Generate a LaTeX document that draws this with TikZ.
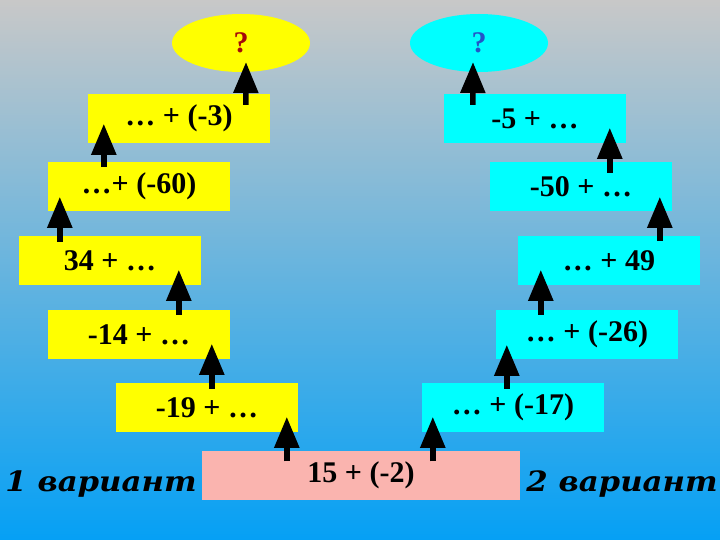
\documentclass[tikz,border=0pt]{standalone}
\usepackage{fontspec}
\setmainfont{Liberation Serif}
\newfontfamily\varfont{DejaVu Serif}
\usetikzlibrary{shapes.geometric,calc,arrows.meta}

\definecolor{bgtop}{RGB}{200,200,200}
\definecolor{bgmid}{RGB}{100,165,220}
\definecolor{bgbot}{RGB}{5,160,245}
\definecolor{yellowbox}{RGB}{255,255,0}
\definecolor{cyanbox}{RGB}{0,255,255}
\definecolor{pinkbox}{RGB}{250,180,175}
\definecolor{qred}{RGB}{165,10,10}
\definecolor{qblue}{RGB}{35,85,200}

\begin{document}
\begin{tikzpicture}[x=1pt,y=-1pt,
    font=\fontsize{30}{36}\selectfont\bfseries,
    sumbox/.style={rectangle, minimum width=182pt, minimum height=49pt, inner sep=0pt},
    ybox/.style={sumbox, fill=yellowbox},
    cbox/.style={sumbox, fill=cyanbox},
    goal/.style={ellipse, minimum width=138pt, minimum height=58pt, inner sep=0pt},
    up/.style={line width=5.5pt, -{Triangle[width=24pt,length=31pt]}},
    variant/.style={xscale=1.1, font=\varfont\fontsize{28}{32}\selectfont\bfseries\itshape}]

    % background
    \shade[top color=bgtop, middle color=bgmid, bottom color=bgbot] (0,0) rectangle (720,540);
    \useasboundingbox (0,0) rectangle (720,540);

    % start
    \node[sumbox, fill=pinkbox, minimum width=318pt] (p) at (361,475) {15 + (-2)};
    \node[variant] (v1) at (101,484) {1 вариант};
    \node[variant] (v2) at (622,484) {2 вариант};

    % first variant (yellow)
    \node[ybox] (y19) at (207,407.5) {-19 + …};
    \node[ybox] (y14) at (139,334.5) {-14 + …};
    \node[ybox] (y34) at (110,260.5) {34 + …};
    \node[ybox] (y60) at (139,186.5) {…+ (-60)};
    \node[ybox] (y3)  at (179,118.5) {… + (-3)};
    \node[goal, fill=yellowbox, text=qred] (q1) at (241,43) {?};

    % second variant (cyan)
    \node[cbox] (c17) at (513,407.5) {… + (-17)};
    \node[cbox] (c26) at (587,334.5) {… + (-26)};
    \node[cbox] (c49) at (609,260.5) {… + 49};
    \node[cbox] (c50) at (581,186.5) {-50 + …};
    \node[cbox] (c5)  at (535,118.5) {-5 + …};
    \node[goal, fill=cyanbox, text=qblue] (q2) at (479,43) {?};

    % arrows, left
    \draw[up] ($(p.north west)+(85,11)$) -- ($(y19.north west)+(171,34)$);
    \draw[up] ($(y19.north west)+(96,6)$) -- ($(y14.north west)+(164,34)$);
    \draw[up] ($(y14.north west)+(131,5)$) -- ($(y34.north west)+(160,34)$);
    \draw[up] ($(y34.north west)+(41,6)$) -- ($(y60.north west)+(12,35)$);
    \draw[up] ($(y60.north west)+(56,5)$) -- ($(y3.north west)+(16,30)$);
    \draw[up] ($(y3.north west)+(158,11)$) -- ($(q1.center)+(5,19)$);

    % arrows, right
    \draw[up] ($(p.north west)+(231,11)$) -- ($(c17.north west)+(11,34)$);
    \draw[up] ($(c17.north west)+(85,6)$) -- ($(c26.north west)+(11,35)$);
    \draw[up] ($(c26.north west)+(45,5)$) -- ($(c49.north west)+(23,34)$);
    \draw[up] ($(c49.north west)+(142,5)$) -- ($(c50.north west)+(170,35)$);
    \draw[up] ($(c50.north west)+(120,11)$) -- ($(c5.north west)+(166,34)$);
    \draw[up] ($(c5.north west)+(29,11)$) -- ($(q2.center)+(-6,19)$);
\end{tikzpicture}
\end{document}
